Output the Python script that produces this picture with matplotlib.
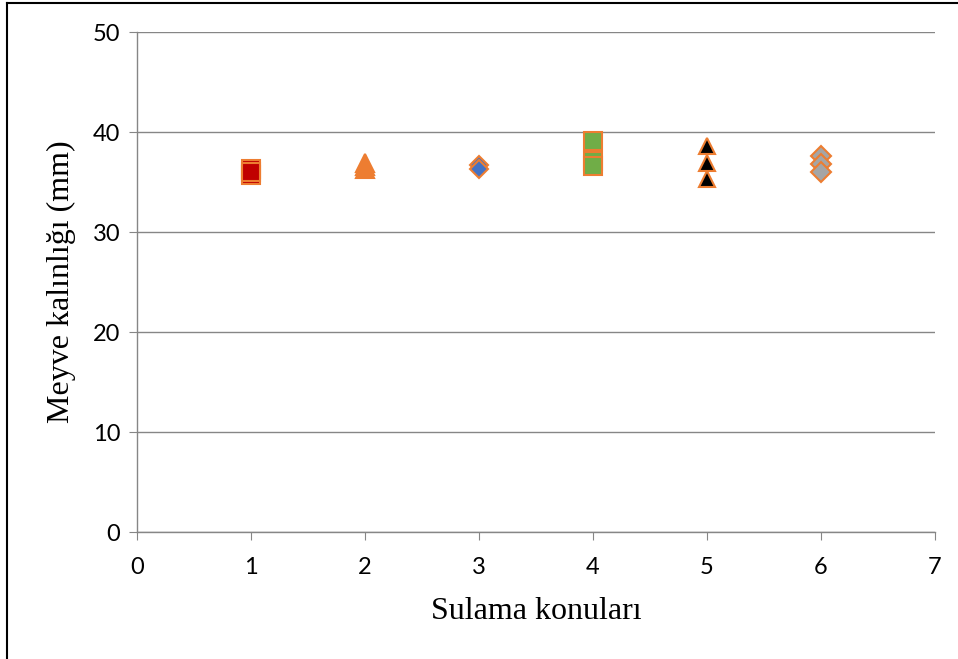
import matplotlib
matplotlib.use("Agg")
import matplotlib.pyplot as plt
from matplotlib.lines import Line2D

# sulama konulari (treatments) and fruit thickness readings
konu_1 = [36.3, 35.7, 36.0]
konu_2 = [36.9, 36.3, 36.6]
konu_3 = [36.7, 36.3]
konu_4 = [39.1, 37.1, 36.6]
konu_5 = [38.6, 36.95, 35.3]
konu_6 = [37.6, 36.8, 36.0]

x_label = "Sulama konuları"
y_label = "Meyve kalınlığı (mm)"

series = [
    (1, konu_1, "s", "#C00000", 13),
    (2, konu_2, "^", "#ED7D31", 13),
    (3, konu_3, "D", "#4472C4", 9),
    (4, konu_4, "s", "#70AD47", 13),
    (5, konu_5, "^", "#000000", 12),
    (6, konu_6, "D", "#A5A5A5", 10),
]

fig = plt.figure(figsize=(9.58, 6.59), dpi=100)
ax = fig.add_axes([0.143, 0.1927, 0.833, 0.7587])

for x, vals, mk, col, ms in series:
    ax.plot([x] * len(vals), vals, linestyle="none", marker=mk, markersize=ms,
            markerfacecolor=col, markeredgecolor="#ED7D31", markeredgewidth=1.5,
            zorder=3)

ax.set_xlim(0, 7)
ax.set_ylim(0, 50)
ax.set_xticks(range(0, 8))
ax.set_yticks(range(0, 51, 10))
ax.yaxis.grid(True, color="#868686", linewidth=1)
ax.set_axisbelow(True)

for s in ["top", "right"]:
    ax.spines[s].set_visible(False)
for s in ["left", "bottom"]:
    ax.spines[s].set_color("#868686")
    ax.spines[s].set_linewidth(1)

ax.tick_params(axis="both", direction="out", length=6, color="#868686",
               labelsize=17)
ax.tick_params(axis="x", pad=12)
ax.tick_params(axis="y", pad=6)
for lab in ax.get_xticklabels() + ax.get_yticklabels():
    lab.set_fontfamily("Lato")

ax.set_xlabel(x_label, fontfamily="Liberation Serif", fontsize=23, labelpad=14)
ax.set_ylabel(y_label, fontfamily="Liberation Serif", fontsize=23, labelpad=12)

# outer frame on the left and top
fig.add_artist(Line2D([0.007, 0.007], [0, 0.996], transform=fig.transFigure,
                      color="black", linewidth=1.5))
fig.add_artist(Line2D([0.007, 1.0], [0.996, 0.996], transform=fig.transFigure,
                      color="black", linewidth=1.5))

fig.savefig("out.png", dpi=100)
